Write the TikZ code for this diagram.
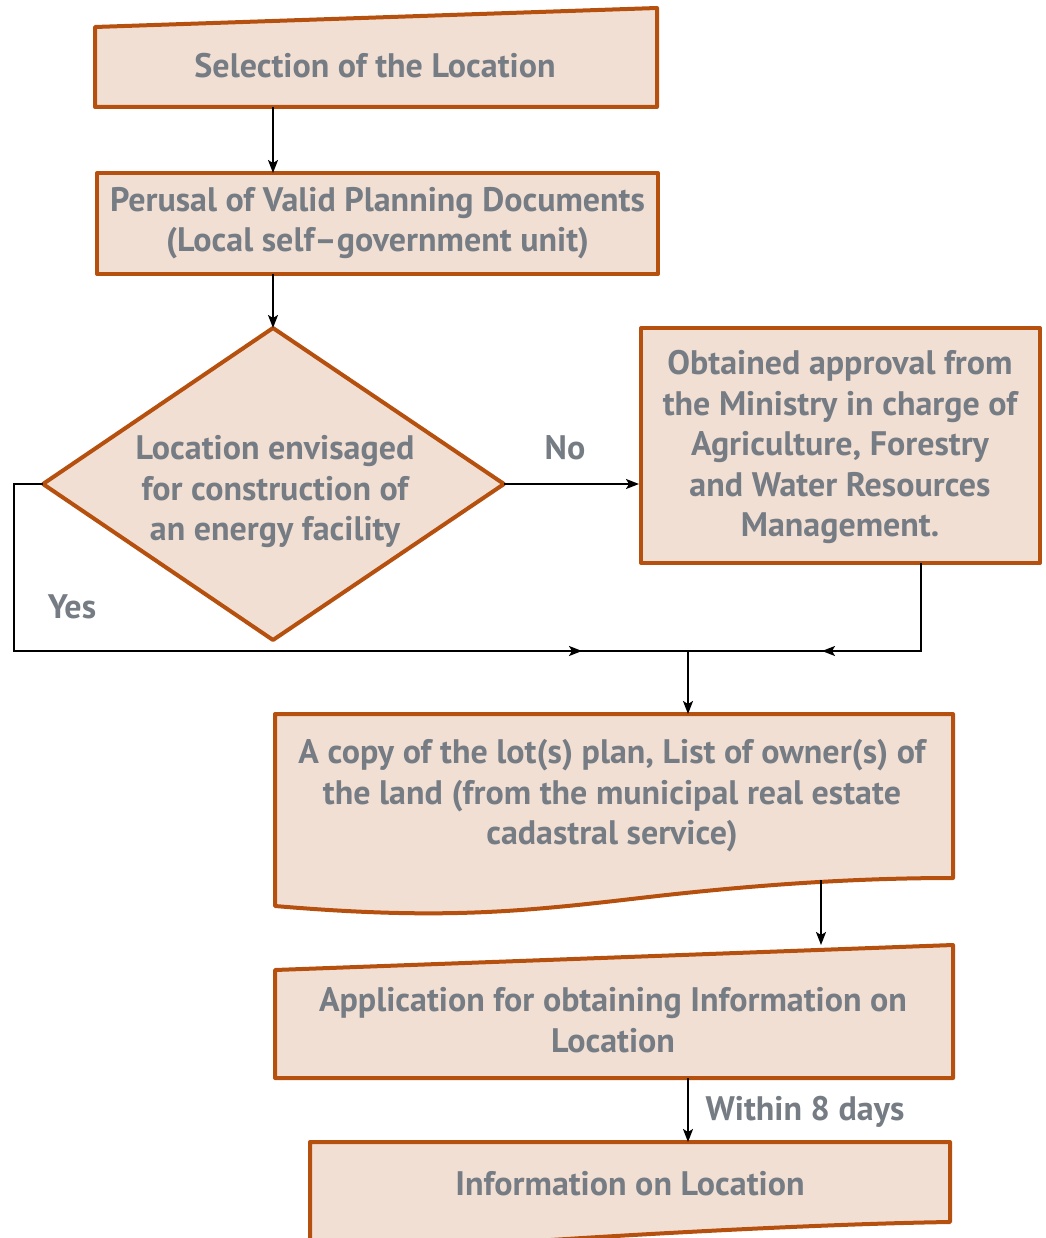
\documentclass[tikz,border=0pt]{standalone}
\usepackage{fontspec}
\setmainfont{PT Sans}
\usetikzlibrary{arrows.meta}
\definecolor{boxfill}{HTML}{F2DFD3}
\definecolor{boxline}{HTML}{B5500F}
\definecolor{txtgray}{HTML}{767C84}
\begin{document}
\begin{tikzpicture}[x=1pt,y=-1pt,
  shapeline/.style={draw=boxline,fill=boxfill,line width=4pt,line join=round},
  lbl/.style={text=txtgray,font=\bfseries\fontsize{34}{40.5}\selectfont,align=center,inner sep=0pt},
  conn/.style={line width=1.8pt,draw=black},
  arr/.style={conn,-{Stealth[length=13pt,width=10pt,inset=3pt]}}]
\clip (0,0) rectangle (1045,1238);

% manual input: selection of the location
\draw[shapeline] (95,27) -- (657,8) -- (657,107) -- (95,107) -- cycle;
\node[lbl] (sel) at (375,66) {Selection of the Location};
\coordinate (selS) at (273,107);

% perusal of planning documents
\node[shapeline,minimum width=561pt,minimum height=101pt,inner sep=0pt] (per) at (377.5,223.5) {};
\node[lbl] at (377.5,223) {Perusal of Valid Planning Documents\\(Local self--government unit)};
\coordinate (perN) at (273,173);
\coordinate (perS) at (273,274);

% decision diamond
\draw[shapeline] (273,328) coordinate (diaN) -- (504,484) coordinate (diaE)
  -- (273,640) -- (43,484) coordinate (diaW) -- cycle;
\node[lbl] (dia) at (275,492) {Location envisaged\\for construction of\\an energy facility};

% ministry approval
\node[shapeline,minimum width=399pt,minimum height=235pt,inner sep=0pt] (appr) at (840.5,445.5) {};
\node[lbl] at (840,447) {Obtained approval from\\the Ministry in charge of\\Agriculture, Forestry\\and Water Resources\\Management.};
\coordinate (apprS) at (921,563);

% document: lot plan and owners
\draw[shapeline] (275,714) -- (953,714) -- (953,878)
  .. controls (860,878) and (760,884) .. (640,898)
  .. controls (520,912) and (440,920) .. (275,906) -- cycle;
\node[lbl] (copy) at (612,796) {A copy of the lot(s) plan, List of owner(s) of\\the land (from the municipal real estate\\cadastral service)};
\coordinate (copyN) at (688,714);
\coordinate (copyS) at (821,880);

% manual input: application
\draw[shapeline] (275,970) -- (953,945) -- (953,1078) -- (275,1078) -- cycle;
\node[lbl] (app) at (613,1020) {Application for obtaining Information on\\Location};
\coordinate (appN) at (821,945);
\coordinate (appS) at (688,1078);

% document: information on location
\draw[shapeline] (310,1142) -- (950,1142) -- (950,1222)
  .. controls (820,1224) and (640,1234) .. (520,1242)
  -- (310,1250) -- cycle;
\node[lbl] (info) at (630,1184) {Information on Location};
\coordinate (infoN) at (688,1142);

% junction of both branches
\coordinate (jn) at (688,651);
\coordinate (yesA) at (14,484);
\coordinate (yesB) at (14,651);
\coordinate (yesM) at (582,651);
\coordinate (apprC) at (921,651);
\coordinate (apprM) at (822,651);

% connectors
\draw[arr] (selS) -- (perN);
\draw[arr] (perS) -- (diaN);
\draw[arr] (diaE) -- (appr.west |- diaE);
\draw[conn] (diaW) -- (yesA) -- (yesB) -- (jn);
\draw[arr] (yesB) -- (yesM);
\draw[conn] (apprS) -- (apprC) -- (jn);
\draw[arr] (apprC) -- (apprM);
\draw[arr] (jn) -- (copyN);
\draw[arr] (copyS) -- (appN);
\draw[arr] (appS) -- (infoN);

% branch labels
\node[lbl] (no) at (565,448) {No};
\node[lbl] (yes) at (72,607) {Yes};
\node[lbl] (days) at (805,1112) {Within 8 days};
\end{tikzpicture}
\end{document}
